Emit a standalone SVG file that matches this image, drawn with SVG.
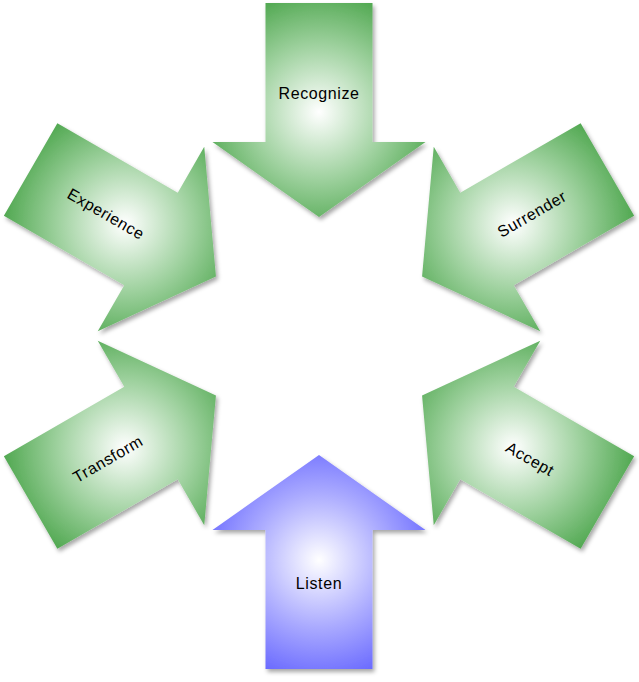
<svg xmlns="http://www.w3.org/2000/svg" width="639" height="682" viewBox="0 0 639 682">
<style>
.lbl{font-family:"Liberation Sans",Arial,sans-serif;font-size:16px;letter-spacing:0.6px;fill:#000;text-anchor:middle;dominant-baseline:central}
</style>
<defs>
<radialGradient id="gG" gradientUnits="userSpaceOnUse" cx="0" cy="-224" r="135">
<stop offset="0" stop-color="#ffffff"/>
<stop offset="0.5" stop-color="#9ed19e"/>
<stop offset="1" stop-color="#3e9e3e"/>
</radialGradient>
<radialGradient id="gB" gradientUnits="userSpaceOnUse" cx="0" cy="-224" r="135">
<stop offset="0" stop-color="#ffffff"/>
<stop offset="0.5" stop-color="#aaaaff"/>
<stop offset="1" stop-color="#5a5aff"/>
</radialGradient>
<polygon id="arr" points="-53.5,-333 53.5,-333 53.5,-194 106.5,-194 0,-119 -106.5,-194 -53.5,-194"/>
<filter id="sh" x="-10%" y="-10%" width="130%" height="130%">
<feDropShadow dx="2" dy="3" stdDeviation="2" flood-color="#000" flood-opacity="0.35"/>
</filter>
</defs>
<g id="connectors"></g>
<g id="recognize">
<g filter="url(#sh)"><use href="#arr" fill="url(#gG)" transform="translate(319,336)"/></g>
<text class="lbl" x="319" y="93">Recognize</text>
</g>
<g id="experience">
<g filter="url(#sh)"><use href="#arr" fill="url(#gG)" transform="translate(319,336) rotate(-60)"/></g>
<text class="lbl" transform="translate(106,214) rotate(30)">Experience</text>
</g>
<g id="surrender">
<g filter="url(#sh)"><use href="#arr" fill="url(#gG)" transform="translate(319,336) rotate(60)"/></g>
<text class="lbl" transform="translate(532,214) rotate(-30)">Surrender</text>
</g>
<g id="accept">
<g filter="url(#sh)"><use href="#arr" fill="url(#gG)" transform="translate(319,336) rotate(120)"/></g>
<text class="lbl" transform="translate(530,459) rotate(30)">Accept</text>
</g>
<g id="transform">
<g filter="url(#sh)"><use href="#arr" fill="url(#gG)" transform="translate(319,336) rotate(-120)"/></g>
<text class="lbl" transform="translate(108,459) rotate(-30)">Transform</text>
</g>
<g id="listen">
<g filter="url(#sh)"><use href="#arr" fill="url(#gB)" transform="translate(319,336) rotate(180)"/></g>
<text class="lbl" x="319" y="583">Listen</text>
</g>
</svg>
